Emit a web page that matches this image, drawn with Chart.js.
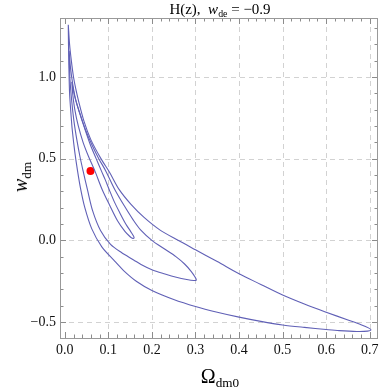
<!DOCTYPE html>
<html>
<head>
<meta charset="utf-8">
<script src="https://cdn.jsdelivr.net/npm/chart.js@4.4.0/dist/chart.umd.min.js"></script>
<style>
  body { margin: 0; background: #fff; }
  #wrap { position: relative; width: 382px; height: 387px; overflow: hidden; }
  #wrap canvas { position: absolute; left: 0; top: 0; }
  .lbl { position: absolute; font-family: "Liberation Serif", "DejaVu Serif", serif; color: #000; white-space: nowrap; line-height: 1; }
  .lbl sub { font-size: 0.66em; vertical-align: -0.3em; line-height: 0; }
</style>
</head>
<body>
<div id="wrap">
  <canvas id="contourChart" width="382" height="387"></canvas>
  <div class="lbl" id="title" style="left:220px; top:2px; transform:translateX(-50%); font-size:15px;">H(z),&nbsp; <i>w</i><sub>de</sub> = −0.9</div>
  <div class="lbl" id="ylab" style="left:20px; top:177px; transform:translate(-50%,-50%) rotate(-90deg); font-size:20px;"><i>w</i><sub>dm</sub></div>
  <div class="lbl" id="xlab" style="left:220px; top:376px; transform:translate(-50%,-50%); font-size:20px;">Ω<sub>dm0</sub></div>
</div>
<script>
// axis ranges and tick labels
const X_MIN = -0.011, X_MAX = 0.719;
const Y_MIN = -0.598, Y_MAX = 1.361;
const xTicks = [0.0, 0.1, 0.2, 0.3, 0.4, 0.5, 0.6, 0.7];
const yTicks = [-0.5, 0.0, 0.5, 1.0];

// best fit point
const bestFit = [[0.059, 0.425]];

// contours (Omega_dm0, w_dm)
// inner: down the left side to the tip, back up the right side
const contourInner = [
  [0.016, 0.97], [0.018, 0.90], [0.023, 0.80], [0.031, 0.70], [0.042, 0.60],
  [0.055, 0.51], [0.069, 0.425], [0.086, 0.31], [0.103, 0.215], [0.121, 0.12],
  [0.138, 0.055], [0.150, 0.022], [0.155, 0.013], [0.159, 0.014],
  [0.158, 0.025], [0.151, 0.055], [0.140, 0.10], [0.126, 0.17], [0.113, 0.24],
  [0.102, 0.31], [0.093, 0.37], [0.084, 0.425], [0.072, 0.50], [0.058, 0.59],
  [0.045, 0.69], [0.033, 0.79], [0.023, 0.88], [0.016, 0.97]
];
const contourMiddle = [
  [0.010, 1.16], [0.013, 1.06], [0.018, 0.96], [0.025, 0.86], [0.034, 0.78],
  [0.047, 0.68], [0.063, 0.58], [0.078, 0.50], [0.094, 0.425], [0.115, 0.31],
  [0.138, 0.205], [0.157, 0.125], [0.174, 0.064], [0.200, 0.0], [0.230, -0.055],
  [0.255, -0.10], [0.275, -0.145], [0.290, -0.19], [0.299, -0.225], [0.302, -0.243],
  [0.296, -0.246], [0.280, -0.240], [0.256, -0.226], [0.230, -0.206], [0.200, -0.180],
  [0.175, -0.148], [0.158, -0.120], [0.130, -0.075], [0.105, -0.025], [0.082, 0.06],
  [0.064, 0.18], [0.052, 0.31], [0.042, 0.425], [0.035, 0.51], [0.028, 0.61],
  [0.021, 0.73], [0.016, 0.85], [0.012, 0.98], [0.0105, 1.08], [0.010, 1.16]
];
const contourOuter = [
  [0.008, 1.32], [0.011, 1.20], [0.015, 1.10], [0.020, 1.00], [0.025, 0.93],
  [0.031, 0.86], [0.044, 0.73], [0.060, 0.615], [0.083, 0.50], [0.103, 0.415],
  [0.125, 0.31], [0.152, 0.22], [0.182, 0.14], [0.218, 0.064], [0.260, 0.0],
  [0.300, -0.058], [0.350, -0.13], [0.400, -0.205], [0.450, -0.27], [0.500, -0.335],
  [0.550, -0.39], [0.600, -0.44], [0.650, -0.488], [0.680, -0.517], [0.697, -0.536],
  [0.703, -0.548], [0.695, -0.556], [0.670, -0.558], [0.630, -0.553], [0.600, -0.546],
  [0.550, -0.533], [0.500, -0.518], [0.450, -0.496], [0.400, -0.470], [0.350, -0.440],
  [0.300, -0.405], [0.250, -0.362], [0.200, -0.307], [0.165, -0.252], [0.135, -0.185],
  [0.112, -0.12], [0.085, -0.04], [0.062, 0.07], [0.046, 0.20], [0.036, 0.32],
  [0.029, 0.43], [0.023, 0.54], [0.017, 0.68], [0.014, 0.78], [0.011, 0.90],
  [0.0095, 1.05], [0.0085, 1.20], [0.008, 1.32]
];

const LINE_COLOR = 'rgb(96, 96, 182)';
const toPts = arr => arr.map(p => ({ x: p[0], y: p[1] }));

function contourSet(arr) {
  return {
    data: toPts(arr),
    showLine: true,
    borderColor: LINE_COLOR,
    borderWidth: 1.1,
    pointRadius: 0,
    tension: 0.3,
    fill: false
  };
}

function fmt(v) {
  return (v < 0 ? '\u2212' : '') + Math.abs(v).toFixed(1);
}

// frame, dashed grid and inward ticks, Mathematica style
const framePlugin = {
  id: 'frame',
  beforeDatasetsDraw(chart) {
    const { ctx, chartArea: a, scales: { x, y } } = chart;
    ctx.save();
    ctx.strokeStyle = '#d2d2d2';
    ctx.lineWidth = 1;
    ctx.setLineDash([5, 4]);
    ctx.beginPath();
    xTicks.forEach(v => {
      if (v === 0) return;
      const p = Math.round(x.getPixelForValue(v)) + 0.5;
      ctx.moveTo(p, a.top); ctx.lineTo(p, a.bottom);
    });
    yTicks.forEach(v => {
      const p = Math.round(y.getPixelForValue(v)) + 0.5;
      ctx.moveTo(a.left, p); ctx.lineTo(a.right, p);
    });
    ctx.stroke();
    ctx.restore();
  },
  afterDatasetsDraw(chart) {
    const { ctx, chartArea: a, scales: { x, y } } = chart;
    ctx.save();
    ctx.strokeStyle = '#8c8c8c';
    ctx.lineWidth = 1;
    ctx.beginPath();
    // x ticks (bottom and top)
    for (let i = 0; i <= 35; i++) {
      const v = i * 0.02;
      const len = (i % 5 === 0) ? 6 : 3.5;
      const p = Math.round(x.getPixelForValue(v)) + 0.5;
      ctx.moveTo(p, a.bottom); ctx.lineTo(p, a.bottom - len);
      ctx.moveTo(p, a.top); ctx.lineTo(p, a.top + len);
    }
    // y ticks (left and right)
    for (let i = -5; i <= 13; i++) {
      const v = i * 0.1;
      const len = (i % 5 === 0) ? 6 : 3.5;
      const p = Math.round(y.getPixelForValue(v)) + 0.5;
      ctx.moveTo(a.left, p); ctx.lineTo(a.left + len, p);
      ctx.moveTo(a.right, p); ctx.lineTo(a.right - len, p);
    }
    ctx.stroke();
    ctx.strokeStyle = '#999';
    ctx.strokeRect(Math.round(a.left) + 0.5, Math.round(a.top) + 0.5,
      Math.round(a.right - a.left) - 1, Math.round(a.bottom - a.top));
    ctx.restore();
  }
};

const tickFont = { family: '"Liberation Serif", serif', size: 14 };

new Chart(document.getElementById('contourChart'), {
  type: 'scatter',
  data: {
    datasets: [
      contourSet(contourOuter),
      contourSet(contourMiddle),
      contourSet(contourInner),
      {
        data: toPts(bestFit),
        pointRadius: 4,
        pointBackgroundColor: 'rgb(255, 0, 0)',
        pointBorderWidth: 0,
        showLine: false
      }
    ]
  },
  options: {
    responsive: false,
    animation: false,
    events: [],
    layout: { padding: { top: 18, right: 1, left: 0, bottom: 0 } },
    plugins: { legend: { display: false }, tooltip: { enabled: false }, title: { display: false } },
    scales: {
      x: {
        type: 'linear',
        min: X_MIN,
        max: X_MAX,
        afterBuildTicks: s => { s.ticks = xTicks.map(v => ({ value: v })); },
        afterFit: s => { s.height = 49; s.paddingLeft = 0; s.paddingRight = 0; },
        grid: { display: false, drawTicks: false },
        border: { display: false },
        ticks: { callback: v => fmt(v), font: tickFont, color: '#111', padding: 4, maxRotation: 0, autoSkip: false }
      },
      y: {
        type: 'linear',
        min: Y_MIN,
        max: Y_MAX,
        afterBuildTicks: s => { s.ticks = yTicks.map(v => ({ value: v })); },
        afterFit: s => { s.width = 60; s.paddingTop = 0; s.paddingBottom = 0; },
        grid: { display: false, drawTicks: false },
        border: { display: false },
        ticks: { callback: v => fmt(v), font: tickFont, color: '#111', padding: 4, autoSkip: false }
      }
    }
  },
  plugins: [framePlugin]
});
</script>
</body>
</html>
